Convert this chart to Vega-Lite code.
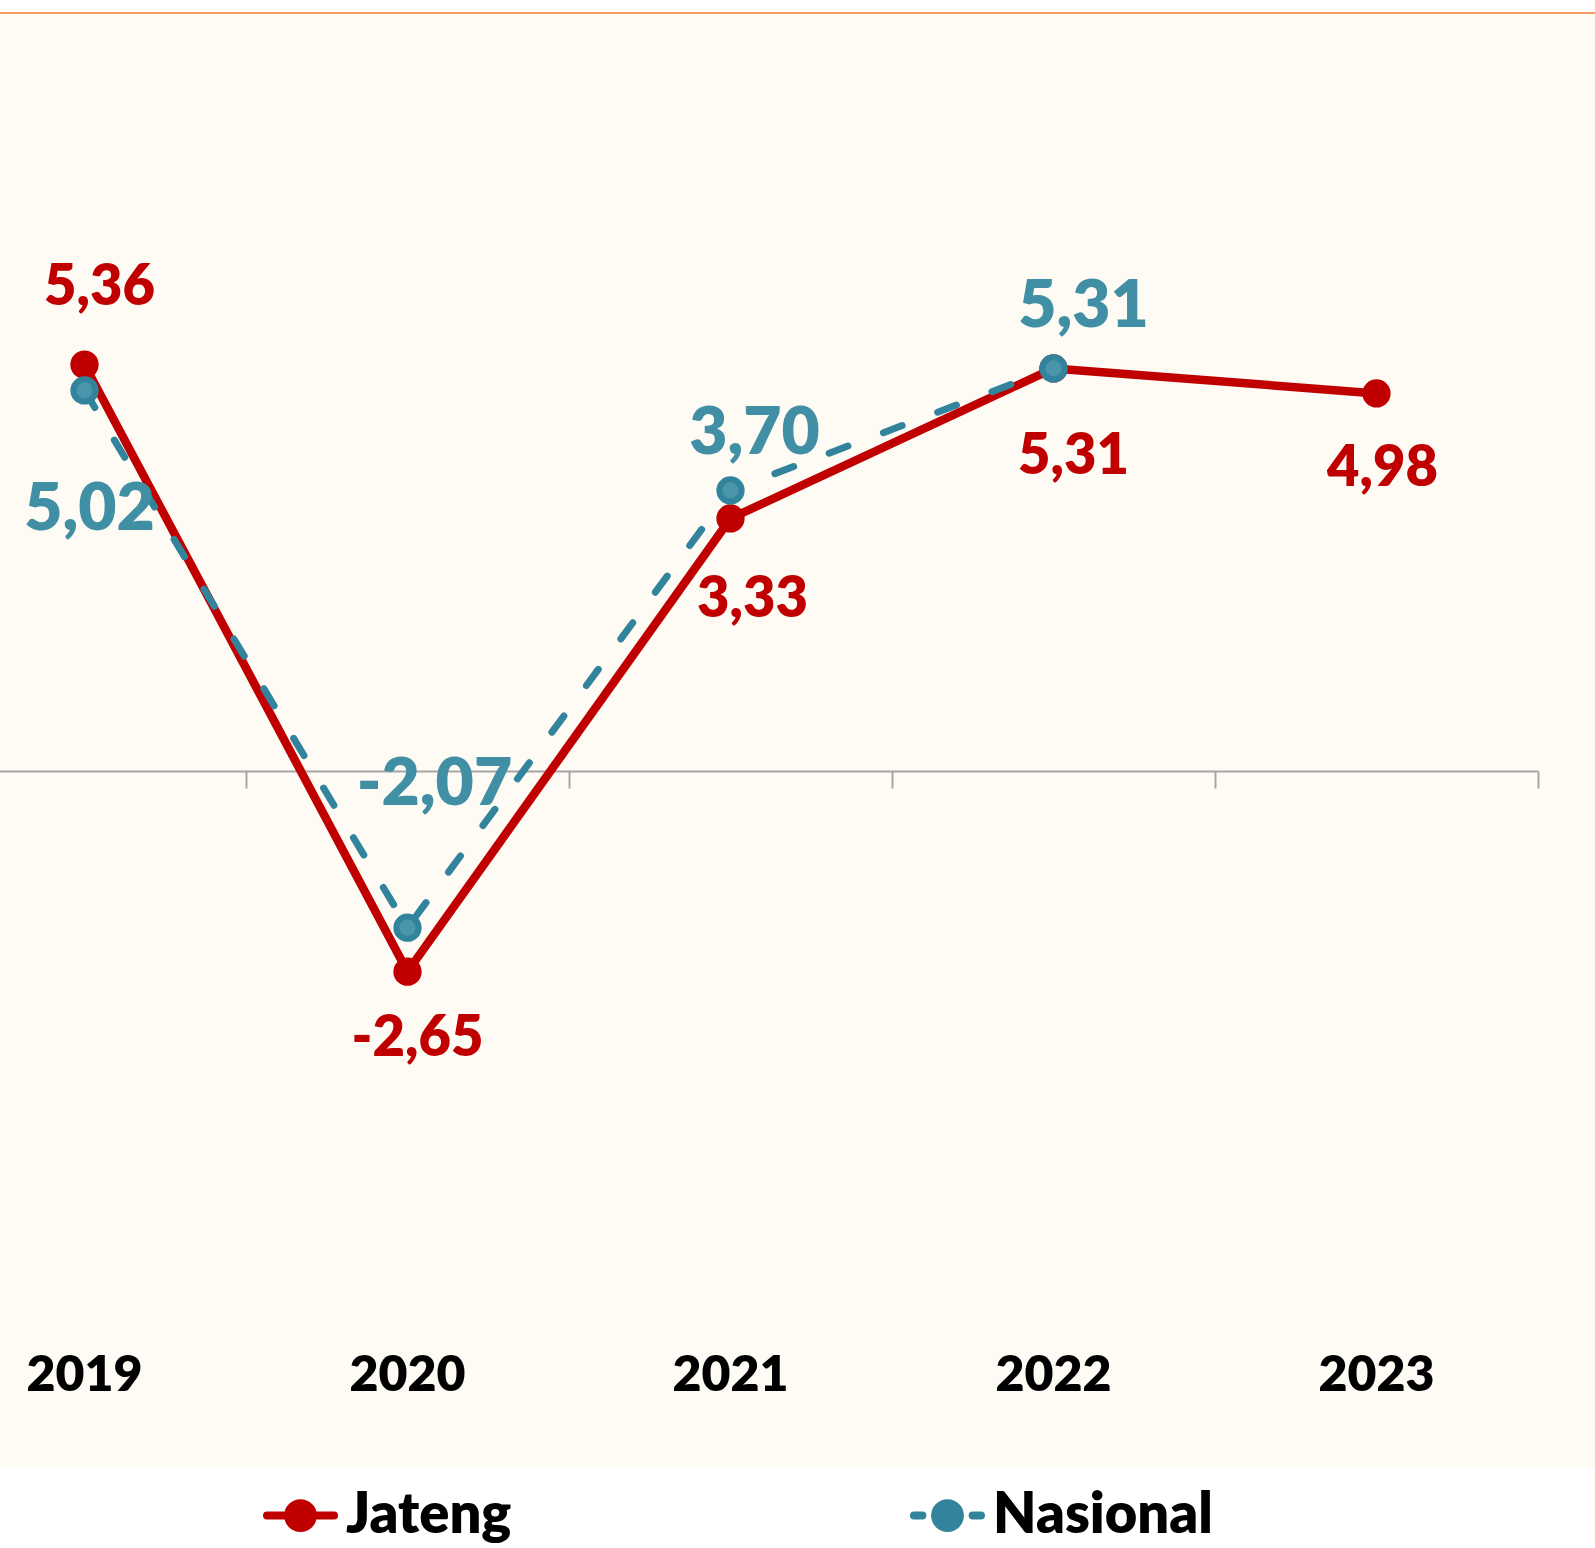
{
  "$schema": "https://vega.github.io/schema/vega-lite/v6.json",
  "width": 1595,
  "height": 1455,
  "autosize": {"type": "none"},
  "padding": {"top": 13, "left": 0, "right": 0, "bottom": 80},
  "background": "#FFFFFF",
  "config": {
    "view": {"fill": "#FEFBF5", "stroke": null},
    "locale": {"number": {"decimal": ",", "thousands": ".", "grouping": [3], "currency": ["", ""], "minus": "-"}}
  },
  "data": {
    "values": [
      {"year": "2019", "series": "Jateng", "value": 5.36},
      {"year": "2020", "series": "Jateng", "value": -2.65},
      {"year": "2021", "series": "Jateng", "value": 3.33},
      {"year": "2022", "series": "Jateng", "value": 5.31},
      {"year": "2023", "series": "Jateng", "value": 4.98},
      {"year": "2019", "series": "Nasional", "value": 5.02},
      {"year": "2020", "series": "Nasional", "value": -2.07},
      {"year": "2021", "series": "Nasional", "value": 3.70},
      {"year": "2022", "series": "Nasional", "value": 5.31}
    ]
  },
  "resolve": {"axis": {"x": "independent"}},
  "layer": [
    {
      "mark": {"type": "rule", "color": "#F29A5E", "strokeWidth": 2},
      "encoding": {"y": {"datum": 10, "type": "quantitative", "scale": {"domain": [-9.2, 10], "nice": false, "zero": false}, "axis": null}}
    },
    {
      "transform": [{"filter": "datum.series === 'Jateng'"}],
      "mark": {"type": "line", "color": "#C00000", "strokeWidth": 8.5, "strokeJoin": "round"},
      "encoding": {
        "x": {"field": "year", "type": "ordinal", "scale": {"type": "band", "range": [-77, 1538], "paddingInner": 0, "paddingOuter": 0},
              "axis": {"orient": "bottom", "offset": -697, "labels": false, "title": null, "domainColor": "#A6A6A6", "domainWidth": 2, "tickColor": "#A6A6A6", "tickWidth": 2, "tickSize": 17, "tickBand": "extent", "grid": false}},
        "y": {"field": "value", "type": "quantitative", "axis": null}
      }
    },
    {
      "transform": [{"filter": "datum.series === 'Nasional'"}],
      "mark": {"type": "line", "color": "#31849B", "strokeWidth": 7, "strokeDash": [20, 38], "strokeCap": "round"},
      "encoding": {
        "x": {"field": "year", "type": "ordinal", "axis": {"orient": "bottom", "offset": -93, "domain": false, "ticks": false, "title": null, "labelPadding": 0, "labelBaseline": "middle", "labelAngle": 0, "labelFont": "Lato", "labelFontSize": 50, "labelFontWeight": 800, "labelColor": "#000000", "grid": false}},
        "y": {"field": "value", "type": "quantitative", "axis": null}
      }
    },
    {
      "mark": {"type": "point", "filled": true, "opacity": 1, "size": 800},
      "encoding": {
        "x": {"field": "year", "type": "ordinal", "axis": null},
        "y": {"field": "value", "type": "quantitative", "axis": null},
        "color": {"field": "series", "type": "nominal", "scale": {"domain": ["Jateng", "Nasional"], "range": ["#C00000", "#31849B"]},
          "legend": {"orient": "none", "legendX": 263, "legendY": 1465, "direction": "horizontal", "title": null, "padding": 0,
            "symbolType": "M-1,0H-0.37M0.37,0H1M-0.37,0A0.37,0.37,0,1,1,0.37,0A0.37,0.37,0,1,1,-0.37,0Z",
            "symbolSize": 4489, "symbolStrokeWidth": 8, "symbolOpacity": 1,
            "labelFont": "Lato", "labelFontSize": 56, "labelFontWeight": 800, "labelColor": "#000000", "labelOffset": 8, "labelLimit": 400,
            "columnPadding": 386,
            "encode": {"symbols": {"update": {
              "shape": [{"test": "datum.value === 'Nasional'", "value": "M-1,0H-0.75M0.75,0H1M-0.37,0A0.37,0.37,0,1,1,0.37,0A0.37,0.37,0,1,1,-0.37,0Z"}, {"value": "M-1,0H-0.37M0.37,0H1M-0.37,0A0.37,0.37,0,1,1,0.37,0A0.37,0.37,0,1,1,-0.37,0Z"}],
              "stroke": {"scale": "color", "field": "value"}, "fill": {"scale": "color", "field": "value"}, "strokeWidth": {"value": 8}, "strokeCap": {"value": "round"}}}}}}
      }
    },
    {
      "transform": [{"filter": "datum.series === 'Nasional'"}],
      "mark": {"type": "point", "filled": true, "opacity": 1, "size": 260, "color": "#4A95AA"},
      "encoding": {
        "x": {"field": "year", "type": "ordinal", "axis": null},
        "y": {"field": "value", "type": "quantitative", "axis": null}
      }
    },
    {
      "transform": [{"filter": "datum.series === 'Jateng' && datum.year === '2019'"}],
      "mark": {"type": "text", "font": "Lato", "fontSize": 56, "fontWeight": 800, "color": "#C00000", "align": "center", "baseline": "middle", "dx": 15, "dy": -77},
      "encoding": {"x": {"field": "year", "type": "ordinal", "axis": null}, "y": {"field": "value", "type": "quantitative", "axis": null}, "text": {"field": "value", "type": "quantitative", "format": ".2f"}}
    },
    {
      "transform": [{"filter": "datum.series === 'Jateng' && datum.year === '2020'"}],
      "mark": {"type": "text", "font": "Lato", "fontSize": 56, "fontWeight": 800, "color": "#C00000", "align": "center", "baseline": "middle", "dx": 10, "dy": 67},
      "encoding": {"x": {"field": "year", "type": "ordinal", "axis": null}, "y": {"field": "value", "type": "quantitative", "axis": null}, "text": {"field": "value", "type": "quantitative", "format": ".2f"}}
    },
    {
      "transform": [{"filter": "datum.series === 'Jateng' && datum.year === '2021'"}],
      "mark": {"type": "text", "font": "Lato", "fontSize": 56, "fontWeight": 800, "color": "#C00000", "align": "center", "baseline": "middle", "dx": 22, "dy": 82},
      "encoding": {"x": {"field": "year", "type": "ordinal", "axis": null}, "y": {"field": "value", "type": "quantitative", "axis": null}, "text": {"field": "value", "type": "quantitative", "format": ".2f"}}
    },
    {
      "transform": [{"filter": "datum.series === 'Jateng' && datum.year === '2022'"}],
      "mark": {"type": "text", "font": "Lato", "fontSize": 56, "fontWeight": 800, "color": "#C00000", "align": "center", "baseline": "middle", "dx": 20, "dy": 89},
      "encoding": {"x": {"field": "year", "type": "ordinal", "axis": null}, "y": {"field": "value", "type": "quantitative", "axis": null}, "text": {"field": "value", "type": "quantitative", "format": ".2f"}}
    },
    {
      "transform": [{"filter": "datum.series === 'Jateng' && datum.year === '2023'"}],
      "mark": {"type": "text", "font": "Lato", "fontSize": 56, "fontWeight": 800, "color": "#C00000", "align": "center", "baseline": "middle", "dx": 6, "dy": 76},
      "encoding": {"x": {"field": "year", "type": "ordinal", "axis": null}, "y": {"field": "value", "type": "quantitative", "axis": null}, "text": {"field": "value", "type": "quantitative", "format": ".2f"}}
    },
    {
      "transform": [{"filter": "datum.series === 'Nasional' && datum.year === '2019'"}],
      "mark": {"type": "text", "font": "Lato", "fontSize": 66, "fontWeight": 800, "color": "#418FA5", "align": "center", "baseline": "middle", "dx": 5, "dy": 120},
      "encoding": {"x": {"field": "year", "type": "ordinal", "axis": null}, "y": {"field": "value", "type": "quantitative", "axis": null}, "text": {"field": "value", "type": "quantitative", "format": ".2f"}}
    },
    {
      "transform": [{"filter": "datum.series === 'Nasional' && datum.year === '2020'"}],
      "mark": {"type": "text", "font": "Lato", "fontSize": 66, "fontWeight": 800, "color": "#418FA5", "align": "center", "baseline": "middle", "dx": 27, "dy": -143},
      "encoding": {"x": {"field": "year", "type": "ordinal", "axis": null}, "y": {"field": "value", "type": "quantitative", "axis": null}, "text": {"field": "value", "type": "quantitative", "format": ".2f"}}
    },
    {
      "transform": [{"filter": "datum.series === 'Nasional' && datum.year === '2021'"}],
      "mark": {"type": "text", "font": "Lato", "fontSize": 66, "fontWeight": 800, "color": "#418FA5", "align": "center", "baseline": "middle", "dx": 24, "dy": -56},
      "encoding": {"x": {"field": "year", "type": "ordinal", "axis": null}, "y": {"field": "value", "type": "quantitative", "axis": null}, "text": {"field": "value", "type": "quantitative", "format": ".2f"}}
    },
    {
      "transform": [{"filter": "datum.series === 'Nasional' && datum.year === '2022'"}],
      "mark": {"type": "text", "font": "Lato", "fontSize": 66, "fontWeight": 800, "color": "#418FA5", "align": "center", "baseline": "middle", "dx": 30, "dy": -61},
      "encoding": {"x": {"field": "year", "type": "ordinal", "axis": null}, "y": {"field": "value", "type": "quantitative", "axis": null}, "text": {"field": "value", "type": "quantitative", "format": ".2f"}}
    }
  ]
}
